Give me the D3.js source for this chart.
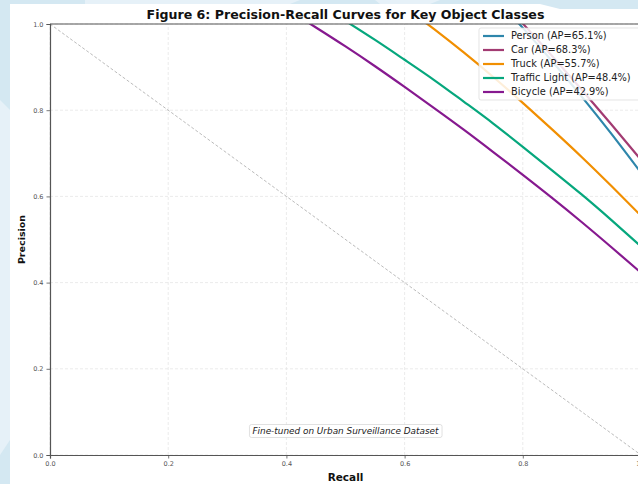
<!DOCTYPE html>
<html><head><meta charset="utf-8">
<script src="https://cdn.jsdelivr.net/npm/d3@7/dist/d3.min.js"></script>
<style>body{margin:0;padding:0;background:#d4e8f2;}svg{display:block;}</style>
</head><body>
<svg id="chart" width="638" height="484"></svg>
<script>
// ---- data ----
const xTicks = [0.0, 0.2, 0.4, 0.6, 0.8, 1.0];
const yTicks = [0.0, 0.2, 0.4, 0.6, 0.8, 1.0];
const seriesNames = ["Person (AP=65.1%)", "Car (AP=68.3%)", "Truck (AP=55.7%)", "Traffic Light (AP=48.4%)", "Bicycle (AP=42.9%)"];
const seriesColors = ["#2E86AB", "#A23B72", "#F18F01", "#06A77D", "#86198F"];
const personRecall = [0.75, 0.80, 0.85, 0.90, 0.95, 1.00];
const personPrecision = [1.065, 0.991, 0.913, 0.831, 0.745, 0.655];
const carRecall = [0.75, 0.80, 0.85, 0.90, 0.95, 1.00];
const carPrecision = [1.075, 1.001, 0.925, 0.847, 0.767, 0.685];
const truckRecall = [0.60, 0.65, 0.70, 0.75, 0.80, 0.85, 0.90, 0.95, 1.00];
const truckPrecision = [1.040, 0.988, 0.934, 0.877, 0.817, 0.755, 0.691, 0.624, 0.555];
const lightRecall = [0.50, 0.55, 0.60, 0.65, 0.70, 0.75, 0.80, 0.85, 0.90, 0.95, 1.00];
const lightPrecision = [1.007, 0.963, 0.917, 0.870, 0.820, 0.769, 0.715, 0.660, 0.604, 0.545, 0.484];
const bikeRecall = [0.40, 0.45, 0.50, 0.55, 0.60, 0.65, 0.70, 0.75, 0.80, 0.85, 0.90, 0.95, 1.00];
const bikePrecision = [1.035, 0.992, 0.948, 0.902, 0.854, 0.805, 0.755, 0.703, 0.650, 0.596, 0.540, 0.482, 0.423];
const randomBaseline = [[0, 1], [1, 0]];
const titleText = "Figure 6: Precision-Recall Curves for Key Object Classes";
const annotationText = "Fine-tuned on Urban Surveillance Dataset";

const series = [
  {name: seriesNames[0], color: seriesColors[0], r: personRecall, p: personPrecision},
  {name: seriesNames[1], color: seriesColors[1], r: carRecall, p: carPrecision},
  {name: seriesNames[2], color: seriesColors[2], r: truckRecall, p: truckPrecision},
  {name: seriesNames[3], color: seriesColors[3], r: lightRecall, p: lightPrecision},
  {name: seriesNames[4], color: seriesColors[4], r: bikeRecall, p: bikePrecision}
];

const svg = d3.select("#chart");
const W = 638, H = 484;
const font = "'DejaVu Sans', Verdana, sans-serif";

// background decoration
svg.append("rect").attr("width", W).attr("height", H).attr("fill", "#d4e8f2");
svg.append("polygon").attr("points", "0,100 10,110 10,440 0,455").attr("fill", "#e6f1f8");
svg.append("polygon").attr("points", "85,0 300,0 290,4 85,4").attr("fill", "#e6f1f8");
svg.append("polygon").attr("points", "375,0 440,0 430,4 380,4").attr("fill", "#e6f1f8");
svg.append("rect").attr("x", 10).attr("y", 4).attr("width", W).attr("height", H).attr("fill", "#ffffff");
svg.append("polygon").attr("points", "445,0 638,0 638,9 560,9 540,4 445,4").attr("fill", "#d4e8f2");
svg.append("polygon").attr("points", "0,0 10,0 10,4 0,4").attr("fill", "#d4e8f2");

const x = d3.scaleLinear().domain([0, 1]).range([50, 641]);
const y = d3.scaleLinear().domain([0, 1]).range([455, 24]);

// grid
const g = svg.append("g");
g.selectAll(".gx").data(xTicks).join("line")
  .attr("x1", d => x(d)).attr("x2", d => x(d)).attr("y1", y(0)).attr("y2", y(1))
  .attr("stroke", "#e2e2e2").attr("stroke-width", 0.7).attr("stroke-dasharray", "3,2");
g.selectAll(".gy").data(yTicks).join("line")
  .attr("x1", x(0)).attr("x2", x(1)).attr("y1", d => y(d)).attr("y2", d => y(d))
  .attr("stroke", "#e2e2e2").attr("stroke-width", 0.7).attr("stroke-dasharray", "3,2");

// clip
svg.append("defs").append("clipPath").attr("id", "plotclip")
  .append("rect").attr("x", x(0)).attr("y", y(1)).attr("width", x(1) - x(0)).attr("height", y(0) - y(1));

// baseline diagonal
svg.append("line")
  .attr("x1", x(randomBaseline[0][0])).attr("y1", y(randomBaseline[0][1]))
  .attr("x2", x(randomBaseline[1][0])).attr("y2", y(randomBaseline[1][1]))
  .attr("stroke", "#aaaaaa").attr("stroke-width", 0.8).attr("stroke-dasharray", "3,2");

// curves
const line = d3.line().x(d => x(d[0])).y(d => y(d[1])).curve(d3.curveNatural);
const cg = svg.append("g").attr("clip-path", "url(#plotclip)");
series.forEach(s => {
  const pts = s.r.map((r, i) => [r, s.p[i]]);
  cg.append("path").datum(pts).attr("d", line)
    .attr("fill", "none").attr("stroke", s.color).attr("stroke-width", 2.2);
});

// axes
const xAxis = d3.axisBottom(x).tickValues(xTicks).tickFormat(d3.format(".1f")).tickSize(3.5).tickPadding(3);
const yAxis = d3.axisLeft(y).tickValues(yTicks).tickFormat(d3.format(".1f")).tickSize(3.5).tickPadding(3);
const gx = svg.append("g").attr("transform", `translate(0,${y(0)})`).call(xAxis);
const gy = svg.append("g").attr("transform", `translate(${x(0)},0)`).call(yAxis);
[gx, gy].forEach(a => {
  a.select(".domain").attr("stroke", "#555555").attr("stroke-width", 1.2);
  a.selectAll(".tick line").attr("stroke", "#555555").attr("stroke-width", 0.8);
  a.selectAll(".tick text").attr("fill", "#555555").attr("font-family", font).attr("font-size", 6.5);
});
// top & right spines
svg.append("line").attr("x1", x(0)).attr("x2", x(1)).attr("y1", y(1)).attr("y2", y(1))
  .attr("stroke", "#555555").attr("stroke-width", 1.2);
svg.append("line").attr("x1", x(1)).attr("x2", x(1)).attr("y1", y(1)).attr("y2", y(0))
  .attr("stroke", "#555555").attr("stroke-width", 1.2);

// title & labels
svg.append("text").attr("x", (x(0) + x(1)) / 2).attr("y", 19).attr("text-anchor", "middle")
  .attr("font-family", font).attr("font-weight", "bold").attr("font-size", 12.6).attr("fill", "#111")
  .text(titleText);
svg.append("text").attr("x", (x(0) + x(1)) / 2).attr("y", 481).attr("text-anchor", "middle")
  .attr("font-family", font).attr("font-weight", "bold").attr("font-size", 10.5).attr("fill", "#111")
  .text("Recall");
svg.append("text").attr("transform", `translate(25,${(y(0) + y(1)) / 2}) rotate(-90)`).attr("text-anchor", "middle")
  .attr("font-family", font).attr("font-weight", "bold").attr("font-size", 9.5).attr("fill", "#111")
  .text("Precision");

// annotation
const ann = svg.append("g");
const annText = ann.append("text").attr("x", (x(0) + x(1)) / 2).attr("y", 434).attr("text-anchor", "middle")
  .attr("font-family", font).attr("font-style", "italic").attr("font-size", 8.9).attr("fill", "#222")
  .text(annotationText);
const bb = annText.node().getBBox();
ann.insert("rect", "text").attr("x", bb.x - 3).attr("y", bb.y - 1.5).attr("width", bb.width + 6).attr("height", bb.height + 3)
  .attr("rx", 2).attr("fill", "#ffffff").attr("fill-opacity", 0.8).attr("stroke", "#cccccc").attr("stroke-width", 0.6);

// legend
const lg = svg.append("g");
lg.append("rect").attr("x", 479).attr("y", 28).attr("width", 162).attr("height", 72).attr("rx", 2)
  .attr("fill", "#ffffff").attr("fill-opacity", 0.85).attr("stroke", "#d8d8d8").attr("stroke-width", 0.7);
series.forEach((s, i) => {
  const yy = 36 + i * 14;
  lg.append("line").attr("x1", 483).attr("x2", 504).attr("y1", yy).attr("y2", yy)
    .attr("stroke", s.color).attr("stroke-width", 2.2);
  lg.append("text").attr("x", 511).attr("y", yy + 3.4).attr("font-family", font).attr("font-size", 9.8)
    .attr("fill", "#222").text(s.name);
});
</script>
</body></html>
